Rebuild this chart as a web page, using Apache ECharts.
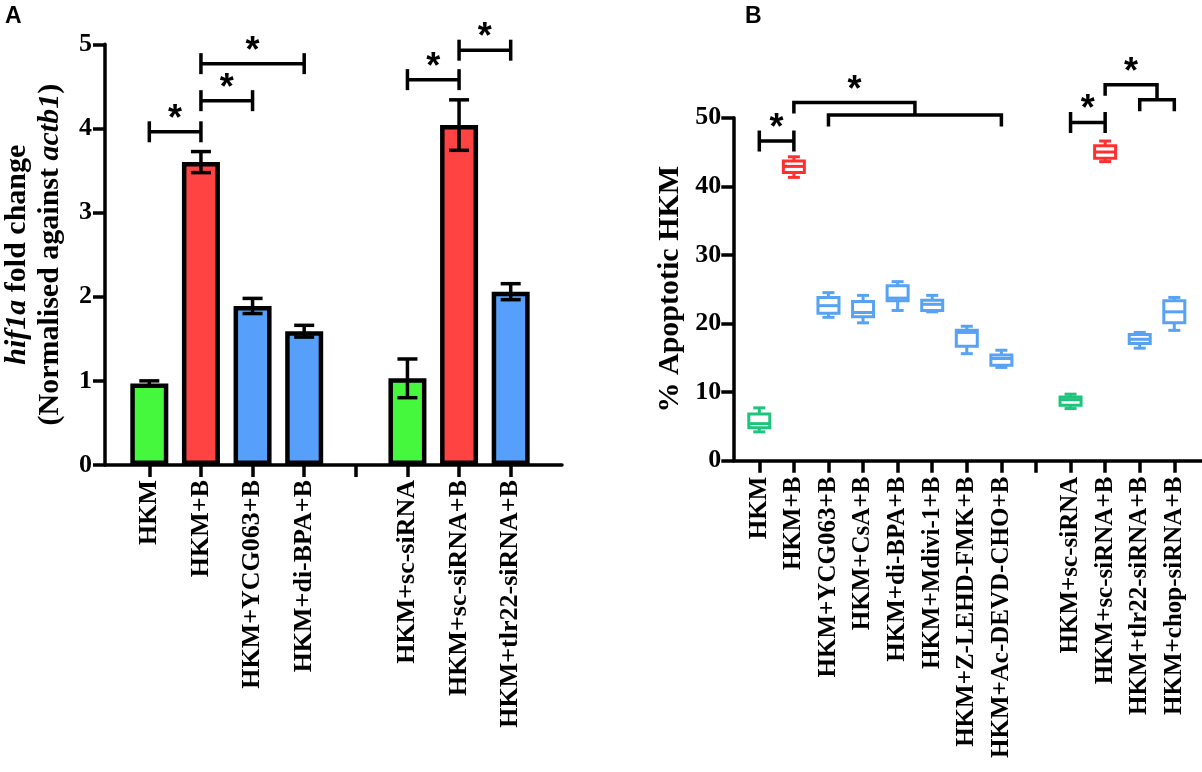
<!DOCTYPE html>
<html>
<head>
<meta charset="utf-8">
<title>hif1a / apoptosis</title>
<script src="https://cdn.jsdelivr.net/npm/echarts@6/dist/echarts.min.js"></script>
<style>
html, body { margin: 0; padding: 0; background: #fff; }
#main { width: 1202px; height: 772px; }
</style>
</head>
<body>
<div id="main"></div>
<script>
var serif = '"Liberation Serif", "Times New Roman", serif';

// panel A - hif1a fold change (mean, sem)
var catsA = ['HKM', 'HKM+B', 'HKM+YCG063+B', 'HKM+di-BPA+B', '', 'HKM+sc-siRNA', 'HKM+sc-siRNA+B', 'HKM+tlr22-siRNA+B'];
var meanA = [0.97, 3.60, 1.89, 1.59, null, 1.03, 4.04, 2.06];
var semA = [0.03, 0.125, 0.09, 0.07, null, 0.23, 0.30, 0.095];
var kindA = ['ctrl', 'stim', 'inh', 'inh', null, 'ctrl', 'stim', 'inh'];
var ticksA = [0, 1, 2, 3, 4, 5];
// [from, to, y]
var sigA = [[0, 1, 3.96], [1, 2, 4.33], [1, 3, 4.77], [5, 6, 4.58], [6, 7, 4.93]];

// panel B - % apoptotic HKM, [min, q1, median, q3, max]
var catsB = ['HKM', 'HKM+B', 'HKM+YCG063+B', 'HKM+CsA+B', 'HKM+di-BPA+B', 'HKM+Mdivi-1+B',
    'HKM+Z-LEHD-FMK+B', 'HKM+Ac-DEVD-CHO+B', '', 'HKM+sc-siRNA', 'HKM+sc-siRNA+B',
    'HKM+tlr22-siRNA+B', 'HKM+chop-siRNA+B'];
var boxB = [
    [4.2, 4.8, 5.4, 6.8, 7.7],
    [41.3, 42.0, 42.9, 43.7, 44.3],
    [20.9, 21.5, 22.6, 23.8, 24.5],
    [20.1, 21.0, 21.6, 23.2, 24.1],
    [21.9, 23.3, 23.7, 25.5, 26.1],
    [21.7, 21.9, 22.8, 23.4, 24.1],
    [15.6, 16.7, 18.7, 19.0, 19.6],
    [13.6, 13.9, 14.9, 15.4, 16.1],
    null,
    [7.6, 8.1, 8.9, 9.3, 9.7],
    [43.6, 44.1, 45.0, 45.9, 46.6],
    [16.4, 17.1, 17.7, 18.4, 18.7],
    [19.0, 20.1, 21.7, 23.3, 23.8]
];
var kindB = ['ctrl', 'stim', 'inh', 'inh', 'inh', 'inh', 'inh', 'inh', null, 'ctrl', 'stim', 'inh', 'inh'];
var ticksB = [0, 10, 20, 30, 40, 50];
var sigB = [[0, 1, 46.6], [9, 10, 49.3]];
// [from, groupStart, groupEnd, topY, groupY]
var sigGroupB = [[1, 2, 7, 52.2, 50.4], [10, 11, 12, 54.8, 52.6]];

var barColors = { ctrl: '#45f83d', stim: '#ff4242', inh: '#56a0fc' };
var boxColors = { ctrl: '#1ec47c', stim: '#ff2f2f', inh: '#58a2f4' };

var black = { stroke: '#000', lineWidth: 3.5 };

function line(x1, y1, x2, y2, st) {
    return { type: 'line', shape: { x1: x1, y1: y1, x2: x2, y2: y2 }, style: st };
}

function star(x, y) {
    return {
        type: 'text', x: x, y: y,
        style: { text: '*', fill: '#000', align: 'center', verticalAlign: 'middle', font: 'bold 36px "Liberation Sans", Arial, sans-serif' }
    };
}

function renderErr(params, api) {
    var x = api.value(0), m = api.value(1), e = api.value(2);
    var top = api.coord([x, m + e]), bot = api.coord([x, m - e]);
    return {
        type: 'group', children: [
            line(top[0], top[1], bot[0], bot[1], black),
            line(top[0] - 10, top[1], top[0] + 10, top[1], black),
            line(bot[0] - 10, bot[1], bot[0] + 10, bot[1], black)
        ]
    };
}

// |----| bracket with a star on top
function renderPair(params, api) {
    var a = api.coord([api.value(0), api.value(2)]);
    var b = api.coord([api.value(1), api.value(2)]);
    var h = 10.5;
    return {
        type: 'group', children: [
            line(a[0], a[1], b[0], b[1], black),
            line(a[0], a[1] - h, a[0], a[1] + h, black),
            line(b[0], b[1] - h, b[0], b[1] + h, black),
            star((a[0] + b[0]) / 2, a[1] - 12)
        ]
    };
}

// one group against several: nested brackets
function renderGroup(params, api) {
    var pf = api.coord([api.value(0), api.value(3)]);
    var g0 = api.coord([api.value(1), api.value(4)]);
    var g1 = api.coord([api.value(2), api.value(4)]);
    var mid = (g0[0] + g1[0]) / 2;
    var st = { stroke: '#000', lineWidth: 3.5, fill: null, lineJoin: 'miter' };
    return {
        type: 'group', children: [
            { type: 'polyline', shape: { points: [[pf[0], pf[1] + 11], [pf[0], pf[1]], [mid, pf[1]], [mid, g0[1]]] }, style: st },
            { type: 'polyline', shape: { points: [[g0[0], g0[1] + 11.5], [g0[0], g0[1]], [g1[0], g1[1]], [g1[0], g1[1] + 11.5]] }, style: st },
            star((pf[0] + mid) / 2, pf[1] - 12)
        ]
    };
}

function renderBox(params, api) {
    var i = api.value(0);
    var p = [1, 2, 3, 4, 5].map(function (k) { return api.coord([i, api.value(k)]); });
    var x = p[0][0], w = 10.5, c = 6;
    var col = boxColors[kindB[i]];
    var st = { stroke: col, lineWidth: 3 };
    return {
        type: 'group', children: [
            line(x, p[3][1], x, p[4][1], st),
            line(x, p[1][1], x, p[0][1], st),
            line(x - c, p[4][1], x + c, p[4][1], st),
            line(x - c, p[0][1], x + c, p[0][1], st),
            { type: 'rect', shape: { x: x - w, y: p[3][1], width: 2 * w, height: p[1][1] - p[3][1] }, style: { stroke: col, lineWidth: 3, fill: '#fff' } },
            line(x - w, p[2][1], x + w, p[2][1], st)
        ]
    };
}

var barData = meanA.map(function (v, i) {
    return v == null ? '-' : { value: v, itemStyle: { color: barColors[kindA[i]] } };
});
var errData = [];
meanA.forEach(function (v, i) {
    if (v != null) errData.push([i, v, semA[i]]);
});
var boxData = [];
boxB.forEach(function (b, i) {
    if (b) boxData.push([i].concat(b));
});

var axisLineStyle = { color: '#000', width: 3.5 };
var tickLabel = { color: '#000', fontFamily: serif, fontWeight: 'bold', fontSize: 26 };

function catAxis(grid, cats, size, margin) {
    return {
        gridIndex: grid, type: 'category', data: cats,
        axisLine: { show: false },
        axisTick: { show: true, alignWithLabel: true, interval: 0, length: 12, lineStyle: axisLineStyle },
        axisLabel: { interval: 0, rotate: 90, margin: margin, color: '#000', fontFamily: serif, fontWeight: 'bold', fontSize: size },
        splitLine: { show: false }
    };
}

function lineAxis(grid) {
    return {
        gridIndex: grid, type: 'value', min: 0, max: 1,
        axisLine: { show: true, onZero: false, lineStyle: axisLineStyle },
        axisTick: { show: false }, axisLabel: { show: false }, splitLine: { show: false }
    };
}

var myChart = echarts.init(document.getElementById('main'));
var option = {
    animation: false,
    backgroundColor: '#fff',
    title: [
        { text: 'A', left: 0, top: 0, textStyle: { color: '#000', fontFamily: '"Liberation Sans", Arial, sans-serif', fontWeight: 'bold', fontSize: 23 } },
        { text: 'B', left: 740, top: 0, textStyle: { color: '#000', fontFamily: '"Liberation Sans", Arial, sans-serif', fontWeight: 'bold', fontSize: 23 } }
    ],
    grid: [
        { left: 123.5, right: 665.5, top: 44.3, bottom: 307 },
        { left: 105, right: 640, top: 44.3, bottom: 307 },
        { left: 742, right: 10.4, top: 117.7, bottom: 311.3 },
        { left: 733.3, right: 0, top: 117.7, bottom: 311.3 }
    ],
    xAxis: [
        catAxis(0, catsA, 26, 15),
        lineAxis(1),
        catAxis(2, catsB, 25, 16),
        lineAxis(3)
    ],
    yAxis: [
        {
            gridIndex: 0, type: 'value', min: ticksA[0], max: ticksA[ticksA.length - 1], interval: 1, offset: 18.5,
            axisLine: { show: true, lineStyle: axisLineStyle },
            axisTick: { show: true, length: 12, lineStyle: axisLineStyle },
            axisLabel: Object.assign({ margin: 13 }, tickLabel),
            splitLine: { show: false },
            name: '{i|hif1a} fold change\n(Normalised against {i|actb1})',
            nameLocation: 'middle', nameRotate: 90, nameGap: 38,
            nameTextStyle: {
                color: '#000', fontFamily: serif, fontWeight: 'bold', fontSize: 30, lineHeight: 33,
                rich: { i: { color: '#000', fontFamily: serif, fontWeight: 'bold', fontStyle: 'italic', fontSize: 30, lineHeight: 33 } }
            }
        },
        { gridIndex: 1, type: 'value', show: false },
        {
            gridIndex: 2, type: 'value', min: ticksB[0], max: ticksB[ticksB.length - 1], interval: 10, offset: 8.7,
            axisLine: { show: true, lineStyle: axisLineStyle },
            axisTick: { show: true, length: 12, lineStyle: axisLineStyle },
            axisLabel: Object.assign({ margin: 12 }, tickLabel),
            splitLine: { show: false },
            name: '% Apoptotic HKM',
            nameLocation: 'middle', nameRotate: 90, nameGap: 48,
            nameTextStyle: { color: '#000', fontFamily: serif, fontWeight: 'bold', fontSize: 30 }
        },
        { gridIndex: 3, type: 'value', show: false }
    ],
    series: [
        {
            type: 'bar', xAxisIndex: 0, yAxisIndex: 0, barWidth: 38, data: barData,
            itemStyle: { borderColor: '#000', borderWidth: 4.5 }
        },
        {
            type: 'custom', xAxisIndex: 0, yAxisIndex: 0, data: errData, clip: false, z: 5,
            encode: { x: 0, y: 1 }, renderItem: renderErr
        },
        {
            type: 'custom', xAxisIndex: 0, yAxisIndex: 0, data: sigA, clip: false, z: 5,
            encode: { x: [0, 1], y: 2 }, renderItem: renderPair
        },
        {
            type: 'custom', xAxisIndex: 2, yAxisIndex: 2, data: boxData, clip: false, z: 5,
            encode: { x: 0, y: [1, 2, 3, 4, 5] }, renderItem: renderBox
        },
        {
            type: 'custom', xAxisIndex: 2, yAxisIndex: 2, data: sigB, clip: false, z: 5,
            encode: { x: [0, 1], y: 2 }, renderItem: renderPair
        },
        {
            type: 'custom', xAxisIndex: 2, yAxisIndex: 2, data: sigGroupB, clip: false, z: 5,
            encode: { x: [0, 1, 2], y: [3, 4] }, renderItem: renderGroup
        }
    ]
};
myChart.setOption(option);
</script>
</body>
</html>
